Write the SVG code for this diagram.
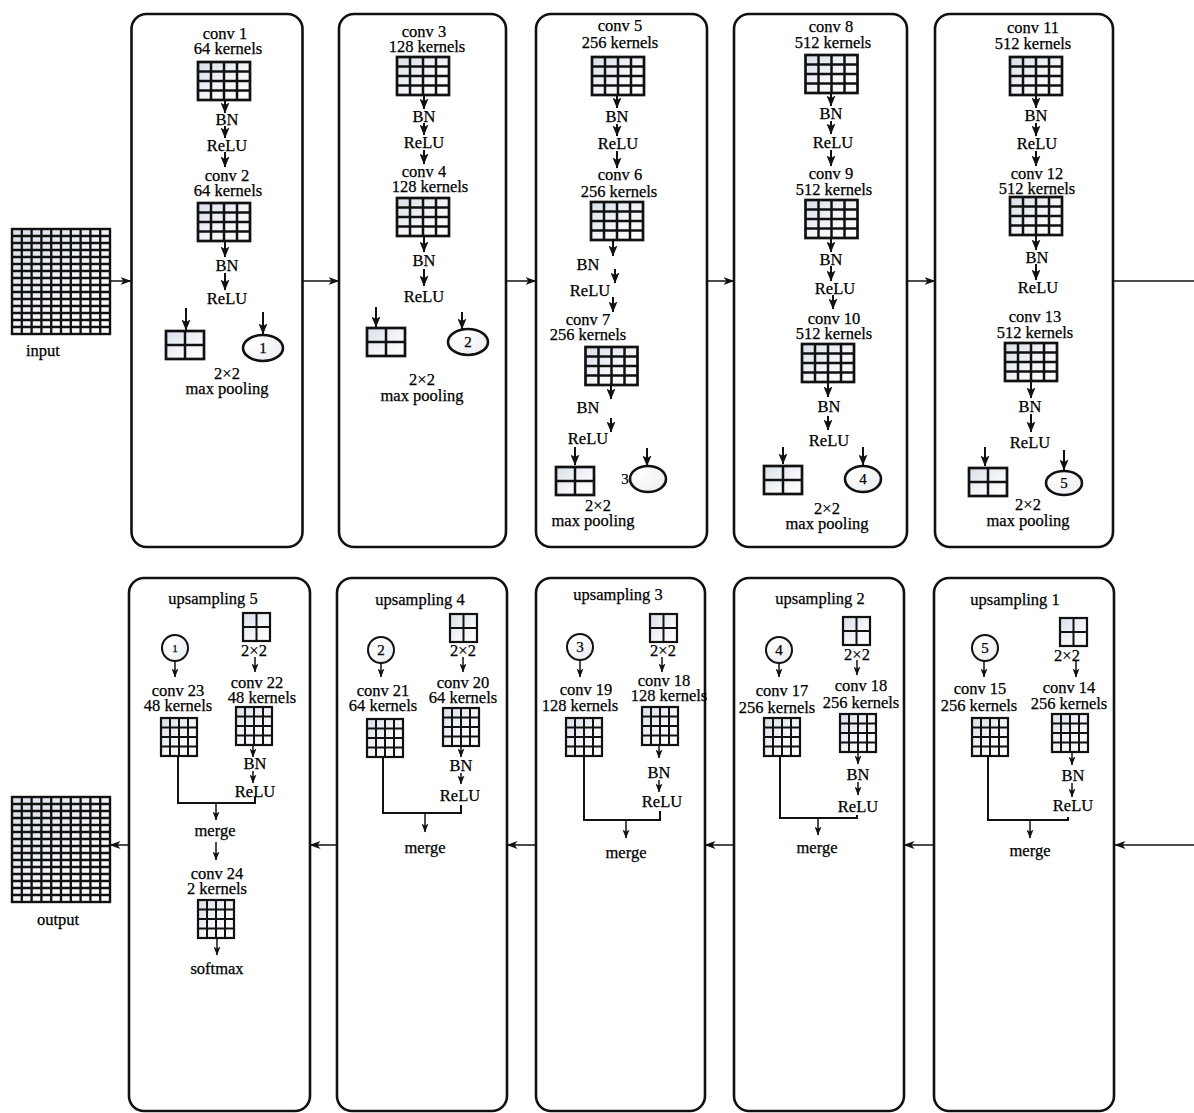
<svg xmlns="http://www.w3.org/2000/svg" width="1194" height="1113" viewBox="0 0 1194 1113">
<style>
text{font-family:"Liberation Serif","DejaVu Serif",serif;font-size:16.5px;text-anchor:middle;dominant-baseline:central;fill:#000;stroke:#000;stroke-width:0.25px}
.box{fill:#fff;stroke:#111;stroke-width:2.6}
.ar{fill:none;stroke:#111;stroke-width:2;marker-end:url(#a)}
.as{fill:none;stroke:#111;stroke-width:1.5;marker-end:url(#s)}
.ah{fill:none;stroke:#111;stroke-width:1.5;marker-end:url(#h)}
.ln{fill:none;stroke:#111;stroke-width:1.5}
.mg{fill:none;stroke:#111;stroke-width:2}
.el{fill:url(#rf);stroke:#111;stroke-width:2.6}
.ci{fill:url(#rf);stroke:#111;stroke-width:2}
.n{font-size:15px}
</style>
<defs>
<linearGradient id="cf" x1="0" y1="0" x2="1" y2="1"><stop offset="0" stop-color="#d9dee8"/><stop offset="0.55" stop-color="#f3f5f8"/><stop offset="1" stop-color="#ffffff"/></linearGradient>
<radialGradient id="rf" cx="0.3" cy="0.3" r="0.8"><stop offset="0" stop-color="#fff"/><stop offset="1" stop-color="#eceef2"/></radialGradient>
<marker id="a" viewBox="0 0 11 9" refX="10.5" refY="4.5" markerWidth="11" markerHeight="9" markerUnits="userSpaceOnUse" orient="auto"><path d="M0,0 L11,4.5 L0,9 L2.5,4.5 z" fill="#111"/></marker>
<marker id="s" viewBox="0 0 9 7" refX="8.5" refY="3.5" markerWidth="9" markerHeight="7" markerUnits="userSpaceOnUse" orient="auto"><path d="M0,0 L9,3.5 L0,7 L2.2,3.5 z" fill="#111"/></marker>
<marker id="h" viewBox="0 0 11 8" refX="10.5" refY="4" markerWidth="11" markerHeight="8" markerUnits="userSpaceOnUse" orient="auto"><path d="M0,0 L11,4 L0,8 L3,4 z" fill="#111"/></marker>
<g id="gT"><rect width="52" height="38" fill="url(#cf)" stroke="#111" stroke-width="2.7"/><path d="M13 0V38M26 0V38M39 0V38M0 9.5H52M0 19H52M0 28.5H52" stroke="#111" stroke-width="2.5"/></g>
<g id="gB"><rect width="36" height="38" fill="url(#cf)" stroke="#111" stroke-width="2.2"/><path d="M9 0V38M18 0V38M27 0V38M0 9.5H36M0 19H36M0 28.5H36" stroke="#111" stroke-width="2"/></g>
<g id="gP"><rect width="38" height="28" fill="url(#cf)" stroke="#111" stroke-width="2.7"/><path d="M19 0V28M0 14H38" stroke="#111" stroke-width="2.5"/></g>
<g id="gU"><rect width="27" height="28" fill="url(#cf)" stroke="#111" stroke-width="2.2"/><path d="M13.5 0V28M0 14H27" stroke="#111" stroke-width="2"/></g>
<g id="big"><rect width="98" height="105" fill="url(#cf)" stroke="#111" stroke-width="2.4"/><path d="M9.8 0V105M19.6 0V105M29.4 0V105M39.2 0V105M49 0V105M58.8 0V105M68.6 0V105M78.4 0V105M88.2 0V105M0 7H98M0 14H98M0 21H98M0 28H98M0 35H98M0 42H98M0 49H98M0 56H98M0 63H98M0 70H98M0 77H98M0 84H98M0 91H98M0 98H98" stroke="#111" stroke-width="2.3"/></g>
</defs>
<rect width="1194" height="1113" fill="#fff"/>

<g id="input"><use href="#big" x="12" y="229"/><text x="43" y="350">input</text></g>
<g id="output"><use href="#big" x="12" y="797"/><text x="58" y="919">output</text></g>

<g id="block1">
<rect class="box" x="131.5" y="14" width="171" height="533" rx="15"/>
<text x="225" y="33">conv 1<tspan x="228" dy="15">64 kernels</tspan></text>
<use href="#gT" x="198" y="62"/>
<text x="227" y="119">BN</text><text x="227" y="145">ReLU</text>
<text x="227" y="175">conv 2<tspan x="228" dy="15">64 kernels</tspan></text>
<use href="#gT" x="198" y="203"/>
<text x="227" y="265">BN</text><text x="227" y="298">ReLU</text>
<use href="#gP" x="166" y="331"/>
<ellipse class="el" cx="263" cy="348" rx="20" ry="13"/><text class="n" x="263" y="348">1</text>
<text x="227" y="373">2×2<tspan x="227" dy="15">max pooling</tspan></text>
</g>

<g id="block2">
<rect class="box" x="339" y="14" width="167" height="533" rx="15"/>
<text x="424" y="31">conv 3<tspan x="427" dy="14.5">128 kernels</tspan></text>
<use href="#gT" x="397" y="57"/>
<text x="424" y="116">BN</text><text x="424" y="142">ReLU</text>
<text x="424" y="171">conv 4<tspan x="430" dy="15">128 kernels</tspan></text>
<use href="#gT" x="397" y="198"/>
<text x="424" y="260">BN</text><text x="424" y="296">ReLU</text>
<use href="#gP" x="367" y="328"/>
<ellipse class="el" cx="468" cy="342" rx="20" ry="13"/><text class="n" x="468" y="342">2</text>
<text x="422" y="379">2×2<tspan x="422" dy="16">max pooling</tspan></text>
</g>

<g id="block3">
<rect class="box" x="536" y="14" width="171" height="533" rx="15"/>
<text x="620" y="25">conv 5<tspan x="620" dy="16.5">256 kernels</tspan></text>
<use href="#gT" x="592" y="57"/>
<text x="617" y="116">BN</text><text x="618" y="143">ReLU</text>
<text x="620" y="174">conv 6<tspan x="619" dy="17">256 kernels</tspan></text>
<use href="#gT" x="591" y="202"/>
<text x="588" y="264">BN</text><text x="590" y="290">ReLU</text>
<text x="588" y="319">conv 7<tspan x="588" dy="15">256 kernels</tspan></text>
<use href="#gT" x="585.5" y="347"/>
<text x="588" y="407">BN</text><text x="588" y="438">ReLU</text>
<use href="#gP" x="556" y="467"/>
<text class="n" x="625" y="479">3</text>
<ellipse class="el" cx="648" cy="479" rx="18" ry="13"/>
<text x="598" y="505">2×2<tspan x="593" dy="15">max pooling</tspan></text>
</g>

<g id="block4">
<rect class="box" x="734" y="14" width="173" height="533" rx="15"/>
<text x="831" y="26">conv 8<tspan x="833" dy="16">512 kernels</tspan></text>
<use href="#gT" x="805.5" y="55"/>
<text x="831" y="113">BN</text><text x="833" y="142">ReLU</text>
<text x="831" y="173">conv 9<tspan x="834" dy="16">512 kernels</tspan></text>
<use href="#gT" x="805.5" y="200"/>
<text x="831" y="259">BN</text><text x="835" y="288">ReLU</text>
<text x="834" y="318">conv 10<tspan x="834" dy="15">512 kernels</tspan></text>
<use href="#gT" x="802" y="344"/>
<text x="829" y="406">BN</text><text x="829" y="440">ReLU</text>
<use href="#gP" x="764" y="466"/>
<ellipse class="el" cx="863" cy="479" rx="18" ry="13"/><text class="n" x="863" y="479">4</text>
<text x="827" y="508">2×2<tspan x="827" dy="15">max pooling</tspan></text>
</g>

<g id="block5">
<rect class="box" x="935" y="14" width="178" height="533" rx="15"/>
<text x="1033" y="27">conv 11<tspan x="1033" dy="16">512 kernels</tspan></text>
<use href="#gT" x="1010" y="57"/>
<text x="1036" y="115">BN</text><text x="1037" y="143">ReLU</text>
<text x="1037" y="173">conv 12<tspan x="1037" dy="15">512 kernels</tspan></text>
<use href="#gT" x="1010" y="197"/>
<text x="1037" y="257">BN</text><text x="1038" y="287">ReLU</text>
<text x="1035" y="316">conv 13<tspan x="1035" dy="16">512 kernels</tspan></text>
<use href="#gT" x="1005" y="343"/>
<text x="1030" y="406">BN</text><text x="1030" y="442">ReLU</text>
<use href="#gP" x="969" y="468"/>
<ellipse class="el" cx="1064" cy="483" rx="18" ry="12"/><text class="n" x="1064" y="483">5</text>
<text x="1028" y="504">2×2<tspan x="1028" dy="16">max pooling</tspan></text>
</g>

<g id="up5">
<rect class="box" x="129" y="578" width="181" height="533" rx="15"/>
<text x="213" y="598">upsampling 5</text>
<use href="#gU" x="243" y="613"/><text x="254" y="650">2×2</text>
<text x="257" y="682">conv 22<tspan x="262" dy="15">48 kernels</tspan></text>
<use href="#gB" x="236" y="707"/>
<text x="255" y="763">BN</text><text x="255" y="791">ReLU</text>
<circle class="ci" cx="175" cy="648" r="13"/><text x="175" y="648" style="font-size:11px">1</text>
<text x="178" y="690">conv 23<tspan x="178" dy="15">48 kernels</tspan></text>
<use href="#gB" x="161" y="718"/>
<text x="215" y="830">merge</text>
<text x="217" y="873">conv 24<tspan x="217" dy="15">2 kernels</tspan></text>
<use href="#gB" x="198" y="900"/>
<text x="217" y="968">softmax</text>
</g>

<g id="up4">
<rect class="box" x="337" y="578" width="170" height="533" rx="15"/>
<text x="420" y="599">upsampling 4</text>
<use href="#gU" x="450" y="614"/><text x="463" y="650">2×2</text>
<text x="463" y="682">conv 20<tspan x="463" dy="15">64 kernels</tspan></text>
<use href="#gB" x="443" y="708"/>
<text x="461" y="765">BN</text><text x="460" y="795">ReLU</text>
<circle class="ci" cx="381" cy="650" r="13"/><text class="n" x="381" y="650">2</text>
<text x="383" y="690">conv 21<tspan x="383" dy="15">64 kernels</tspan></text>
<use href="#gB" x="367" y="719"/>
<text x="425" y="847">merge</text>
</g>

<g id="up3">
<rect class="box" x="536" y="578" width="169" height="533" rx="15"/>
<text x="618" y="594">upsampling 3</text>
<use href="#gU" x="650" y="614"/><text x="663" y="650">2×2</text>
<text x="664" y="680">conv 18<tspan x="669" dy="15">128 kernels</tspan></text>
<use href="#gB" x="642" y="707"/>
<text x="659" y="772">BN</text><text x="662" y="801">ReLU</text>
<circle class="ci" cx="580" cy="647" r="13"/><text class="n" x="580" y="647">3</text>
<text x="586" y="689">conv 19<tspan x="580" dy="16">128 kernels</tspan></text>
<use href="#gB" x="566" y="718"/>
<text x="626" y="852">merge</text>
</g>

<g id="up2">
<rect class="box" x="734" y="578" width="170" height="533" rx="15"/>
<text x="820" y="598">upsampling 2</text>
<use href="#gU" x="843" y="617"/><text x="857" y="654">2×2</text>
<text x="861" y="685">conv 18<tspan x="861" dy="17">256 kernels</tspan></text>
<use href="#gB" x="840" y="714"/>
<text x="858" y="774">BN</text><text x="858" y="806">ReLU</text>
<circle class="ci" cx="779" cy="650" r="13"/><text class="n" x="779" y="650">4</text>
<text x="782" y="690">conv 17<tspan x="777" dy="17">256 kernels</tspan></text>
<use href="#gB" x="764" y="718"/>
<text x="817" y="847">merge</text>
</g>

<g id="up1">
<rect class="box" x="934" y="578" width="180" height="533" rx="15"/>
<text x="1015" y="599">upsampling 1</text>
<use href="#gU" x="1060" y="618"/><text x="1067" y="655">2×2</text>
<text x="1069" y="687">conv 14<tspan x="1069" dy="16">256 kernels</tspan></text>
<use href="#gB" x="1052" y="714"/>
<text x="1073" y="775">BN</text><text x="1073" y="805">ReLU</text>
<circle class="ci" cx="985" cy="648" r="13"/><text class="n" x="985" y="648">5</text>
<text x="980" y="688">conv 15<tspan x="979" dy="17">256 kernels</tspan></text>
<use href="#gB" x="972" y="718"/>
<text x="1030" y="850">merge</text>
</g>

<g id="connectors">
<path class="ah" d="M110 281H131"/>
<path class="ah" d="M303 281H339"/>
<path class="ah" d="M506 281H536"/>
<path class="ah" d="M707 281H734"/>
<path class="ah" d="M907 281H935"/>
<path class="ln" d="M1113 281H1194"/>
<path class="ah" d="M1194 845H1115"/>
<path class="ah" d="M934 845H904"/>
<path class="ah" d="M734 845H705"/>
<path class="ah" d="M536 845H507"/>
<path class="ah" d="M337 845H310"/>
<path class="ah" d="M129 845H110"/>
<path class="ar" d="M225 99V113"/><path class="ar" d="M225 126V138"/><path class="ar" d="M225 152V167"/>
<path class="ar" d="M225 240V257"/><path class="ar" d="M225 273V290"/>
<path class="ar" d="M186 308V330"/><path class="ar" d="M263 312V334"/>
<path class="ar" d="M424 95V109"/><path class="ar" d="M424 123V135"/><path class="ar" d="M424 150V164"/>
<path class="ar" d="M424 236V252"/><path class="ar" d="M424 269V286"/>
<path class="ar" d="M376 307V327"/><path class="ar" d="M462 312V329"/>
<path class="ar" d="M617 94V108"/><path class="ar" d="M617 124V136"/><path class="ar" d="M617 151V168"/>
<path class="ar" d="M613 240V256"/><path class="ar" d="M615 269V283"/><path class="ar" d="M613 297V312"/>
<path class="ar" d="M611 383V399"/><path class="ar" d="M611 418V432"/>
<path class="ar" d="M575 447V465"/><path class="ar" d="M647 448V466"/>
<path class="ar" d="M831 93V106"/><path class="ar" d="M831 121V134"/><path class="ar" d="M831 150V166"/>
<path class="ar" d="M831 238V252"/><path class="ar" d="M831 266V281"/><path class="ar" d="M833 295V309"/>
<path class="ar" d="M828 382V397"/><path class="ar" d="M828 416V430"/>
<path class="ar" d="M783 447V464"/><path class="ar" d="M863 447V465"/>
<path class="ar" d="M1036 95V108"/><path class="ar" d="M1036 123V136"/><path class="ar" d="M1036 151V166"/>
<path class="ar" d="M1036 235V250"/><path class="ar" d="M1036 264V280"/>
<path class="ar" d="M1031 381V398"/><path class="ar" d="M1031 414V432"/>
<path class="ar" d="M985 447V466"/><path class="ar" d="M1064 450V470"/>
<path class="as" d="M255 657V672"/><path class="as" d="M253 745V757"/><path class="as" d="M253 771V783"/>
<path class="as" d="M175 661V677"/>
<path class="mg" d="M178 756V803H255V797"/>
<path class="as" d="M216 803V820"/><path class="as" d="M216 842V860"/><path class="as" d="M217 938V955"/>
<path class="as" d="M463 657V672"/><path class="as" d="M461 746V757"/><path class="as" d="M461 773V784"/>
<path class="as" d="M381 663V677"/>
<path class="mg" d="M383 757V813H461V805"/>
<path class="as" d="M425 813V832"/>
<path class="as" d="M662 657V672"/><path class="as" d="M659 745V758"/><path class="as" d="M659 780V792"/>
<path class="as" d="M580 660V677"/>
<path class="mg" d="M584 756V820H660V811"/>
<path class="as" d="M626 820V838"/>
<path class="as" d="M857 660V675"/><path class="as" d="M858 752V764"/><path class="as" d="M858 782V795"/>
<path class="as" d="M779 663V677"/>
<path class="mg" d="M780 757V818H857V815"/>
<path class="as" d="M818 818V835"/>
<path class="as" d="M1076 661V677"/><path class="as" d="M1072 752V765"/><path class="as" d="M1072 783V797"/>
<path class="as" d="M984 661V677"/>
<path class="mg" d="M988 757V820H1068V817"/>
<path class="as" d="M1030 820V838"/>
</g>
</svg>
